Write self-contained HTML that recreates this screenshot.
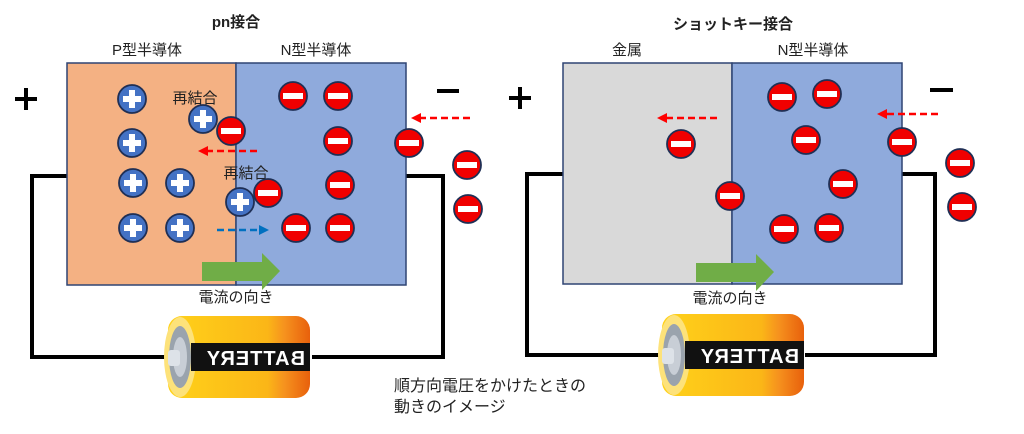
<!DOCTYPE html>
<html><head><meta charset="utf-8"><style>
html,body{margin:0;padding:0;background:#fff;}
svg{display:block;}
text{font-family:"Liberation Sans","Noto Sans CJK JP",sans-serif;fill:#222;}
</style></head><body>
<svg width="1024" height="434" viewBox="0 0 1024 434" xmlns="http://www.w3.org/2000/svg">
<defs>
<g id="pl"><circle r="14" fill="#4472c4" stroke="#1f2f55" stroke-width="1.8"/><rect x="-9" y="-3" width="18" height="6" fill="#fff"/><rect x="-3" y="-9" width="6" height="18" fill="#fff"/></g>
<g id="mi"><circle r="14" fill="#f00000" stroke="#1f2f55" stroke-width="1.8"/><rect x="-10" y="-3" width="20" height="6" fill="#fff"/></g>
<linearGradient id="bg" x1="0" x2="1" y1="0" y2="0"><stop offset="0" stop-color="#ffd21a"/><stop offset="0.7" stop-color="#fbb617"/><stop offset="0.82" stop-color="#f6921e"/><stop offset="1" stop-color="#e8600c"/></linearGradient>
<g id="bat">
<rect x="6" y="0" width="142" height="82" rx="14" fill="url(#bg)"/>
<ellipse cx="18" cy="41" rx="16" ry="40" fill="#fde27a"/>
<ellipse cx="18" cy="41" rx="11" ry="31" fill="#9aa3ad"/>
<ellipse cx="18" cy="41" rx="7" ry="20" fill="#c8ced6"/>
<rect x="6" y="34" width="12" height="16" rx="3" fill="#dde2e8"/>
<rect x="29" y="27" width="119" height="28" fill="#111"/>
<text transform="translate(143 49) scale(-1 1)" font-size="20" font-weight="bold" style="fill:#fff;letter-spacing:1px">BATTERY</text>
</g>
<marker id="ar" markerWidth="8" markerHeight="8" refX="1" refY="4" orient="auto"><path d="M0,4 L8,0 L8,8z" fill="#f00"/></marker>
</defs>

<!-- LEFT -->
<polyline points="67,176 32,176 32,357 170,357" fill="none" stroke="#000" stroke-width="4"/>
<polyline points="406,176 443,176 443,357 312,357" fill="none" stroke="#000" stroke-width="4"/>
<rect x="67" y="63" width="169" height="222" fill="#f4b183" stroke="#2f4473" stroke-width="1.5"/>
<rect x="236" y="63" width="170" height="222" fill="#8faadc" stroke="#2f4473" stroke-width="1.5"/>
<text x="236" y="27" font-size="15" font-weight="bold" text-anchor="middle">pn接合</text>
<text x="147" y="55" font-size="15" text-anchor="middle">P型半導体</text>
<text x="316" y="55" font-size="15" text-anchor="middle">N型半導体</text>
<rect x="15" y="97" width="22" height="4"/><rect x="24" y="88" width="4" height="22"/>
<rect x="437" y="89" width="22" height="4"/>
<text x="195" y="103" font-size="15" text-anchor="middle">再結合</text>
<text x="246" y="178" font-size="15" text-anchor="middle">再結合</text>
<use href="#pl" x="132" y="99"/><use href="#pl" x="132" y="143"/><use href="#pl" x="133" y="183"/><use href="#pl" x="180" y="183"/><use href="#pl" x="133" y="228"/><use href="#pl" x="180" y="228"/><use href="#pl" x="203" y="119"/><use href="#pl" x="240" y="202"/>
<use href="#mi" x="293" y="96"/><use href="#mi" x="338" y="96"/><use href="#mi" x="231" y="131"/><use href="#mi" x="338" y="141"/><use href="#mi" x="409" y="143"/><use href="#mi" x="340" y="185"/><use href="#mi" x="268" y="193"/><use href="#mi" x="296" y="228"/><use href="#mi" x="340" y="228"/><use href="#mi" x="467" y="165"/><use href="#mi" x="468" y="209"/>
<line x1="257" y1="151" x2="206" y2="151" stroke="#f00" stroke-width="2.5" stroke-dasharray="7,4"/><path d="M198,151 L208,146 L208,156z" fill="#f00"/>
<line x1="470" y1="118" x2="419" y2="118" stroke="#f00" stroke-width="2.5" stroke-dasharray="7,4"/><path d="M411,118 L421,113 L421,123z" fill="#f00"/>
<line x1="217" y1="230" x2="261" y2="230" stroke="#0070c0" stroke-width="2.5" stroke-dasharray="7,4"/><path d="M269,230 L259,225 L259,235z" fill="#0070c0"/>
<path d="M202,262 L262,262 L262,253 L280,271 L262,290 L262,281 L202,281z" fill="#70ad47"/>
<text x="236" y="302" font-size="15" text-anchor="middle">電流の向き</text>
<use href="#bat" x="162" y="316"/>

<!-- RIGHT -->
<polyline points="563,174 527,174 527,355 665,355" fill="none" stroke="#000" stroke-width="4"/>
<polyline points="902,174 935,174 935,355 805,355" fill="none" stroke="#000" stroke-width="4"/>
<rect x="563" y="63" width="169" height="221" fill="#d9d9d9" stroke="#2f4473" stroke-width="1.5"/>
<rect x="732" y="63" width="170" height="221" fill="#8faadc" stroke="#2f4473" stroke-width="1.5"/>
<text x="733" y="29" font-size="15" font-weight="bold" text-anchor="middle">ショットキー接合</text>
<text x="627" y="55" font-size="15" text-anchor="middle">金属</text>
<text x="813" y="55" font-size="15" text-anchor="middle">N型半導体</text>
<rect x="509" y="96" width="22" height="4"/><rect x="518" y="87" width="4" height="22"/>
<rect x="930" y="88" width="23" height="4"/>
<use href="#mi" x="782" y="97"/><use href="#mi" x="827" y="94"/><use href="#mi" x="681" y="144"/><use href="#mi" x="806" y="140"/><use href="#mi" x="902" y="142"/><use href="#mi" x="960" y="163"/><use href="#mi" x="962" y="207"/><use href="#mi" x="730" y="196"/><use href="#mi" x="843" y="184"/><use href="#mi" x="784" y="229"/><use href="#mi" x="829" y="228"/>
<line x1="717" y1="118" x2="666" y2="118" stroke="#f00" stroke-width="2.5" stroke-dasharray="7,4"/><path d="M657,118 L667,113 L667,123z" fill="#f00"/>
<line x1="938" y1="114" x2="886" y2="114" stroke="#f00" stroke-width="2.5" stroke-dasharray="7,4"/><path d="M877,114 L887,109 L887,119z" fill="#f00"/>
<path d="M696,263 L756,263 L756,254 L774,272 L756,291 L756,282 L696,282z" fill="#70ad47"/>
<text x="730" y="303" font-size="15" text-anchor="middle">電流の向き</text>
<use href="#bat" x="656" y="314"/>

<text x="394" y="391" font-size="16">順方向電圧をかけたときの</text>
<text x="394" y="412" font-size="16">動きのイメージ</text>
</svg>
</body></html>
